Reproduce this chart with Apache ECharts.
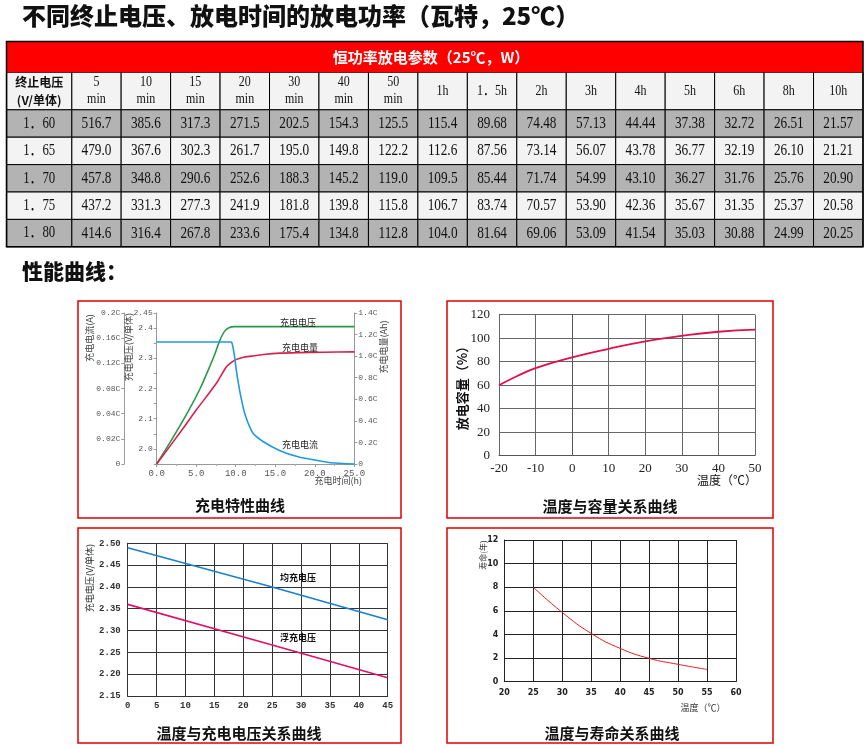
<!DOCTYPE html>
<html><head><meta charset="utf-8">
<script src="https://cdn.jsdelivr.net/npm/echarts@6/dist/echarts.min.js"></script>
<style>html,body{margin:0;padding:0;background:#fff}#c{width:868px;height:749px}</style>
</head><body><div id="c"></div>
<script>
// ---------------- DATA ----------------
var pageTitle = '不同终止电压、放电时间的放电功率（瓦特，25℃）';
var sectionTitle = '性能曲线：';
var tableTitle = '恒功率放电参数（25℃，W）';
var firstHeader = '终止电压\n(V/单体)';
var colLabels = ['5\nmin','10\nmin','15\nmin','20\nmin','30\nmin','40\nmin','50\nmin','1h','1．5h','2h','3h','4h','5h','6h','8h','10h'];
var rowLabels = ['1．60','1．65','1．70','1．75','1．80'];
var p160 = [516.7,385.6,317.3,271.5,202.5,154.3,125.5,115.4,89.68,74.48,57.13,44.44,37.38,32.72,26.51,21.57];
var p165 = [479.0,367.6,302.3,261.7,195.0,149.8,122.2,112.6,87.56,73.14,56.07,43.78,36.77,32.19,26.10,21.21];
var p170 = [457.8,348.8,290.6,252.6,188.3,145.2,119.0,109.5,85.44,71.74,54.99,43.10,36.27,31.76,25.76,20.90];
var p175 = [437.2,331.3,277.3,241.9,181.8,139.8,115.8,106.7,83.74,70.57,53.90,42.36,35.67,31.35,25.37,20.58];
var p180 = [414.6,316.4,267.8,233.6,175.4,134.8,112.8,104.0,81.64,69.06,53.09,41.54,35.03,30.88,24.99,20.25];
var rowValues = [p160,p165,p170,p175,p180];

// Chart 1: charge characteristics  [hours, value]
var chargeVoltage = [[0,1.951],[2,2.035],[4,2.125],[5.5,2.2],[6.5,2.26],[7.3,2.31],[8,2.36],[8.6,2.39],[9.2,2.402],[9.8,2.405],[15,2.405],[25,2.405]];
var chargeCapacity = [[0,0],[3.37,0.333],[5,0.5],[7.6,0.753],[8.8,0.9],[9.5,0.945],[10.1,0.97],[11,0.99],[12,1.0],[13.5,1.015],[15.6,1.028],[18,1.033],[21,1.036],[25,1.04]];
var chargeCurrent = [[0,0.154],[9.3,0.154],[9.5,0.153],[9.8,0.135],[10.1,0.107],[10.6,0.07],[11.2,0.039],[12.2,0.0244],[13.5,0.0177],[15.6,0.0106],[18,0.0055],[20,0.0032],[22,0.001],[25,0]];
var currentTickValues = [0,0.02,0.04,0.08,0.12,0.16,0.2];
var currentTickLabels = ['0','0.02C','0.04C','0.08C','0.12C','0.16C','0.2C'];

// Chart 2: temperature vs capacity
var capTemps = [-20,-15,-10,0,10,20,30,40,50];
var capValues = [60,67.8,74.6,83.7,91,97.3,102,105.5,107.3];

// Chart 3: temperature vs charge voltage
var volTemps = [0,25,45];
var equalizeVolt = [2.49,2.40,2.325];
var floatVolt = [2.36,2.267,2.192];

// Chart 4: temperature vs life
var lifeTemps = [25,30,35,40,45,50,55];
var lifeYears = [8,5.87,4.09,2.82,1.98,1.47,1.04];

// ---------------- HELPERS ----------------
function currentPos(c){
  for (var i=1;i<currentTickValues.length;i++){
    if (c<=currentTickValues[i]) return (i-1)+(c-currentTickValues[i-1])/(currentTickValues[i]-currentTickValues[i-1]);
  }
  return currentTickValues.length-1;
}
function fmtVal(v){ return v>=100 ? v.toFixed(1) : v.toFixed(2); }
var SERIF = '"Liberation Serif","Noto Sans CJK SC",serif';
var CJK = '"Noto Sans CJK SC",sans-serif';

function cell(api, fill, text, font, scaleX, lineHeight){
  var c = api.coord([api.value(0), api.value(1)]);
  var s = api.size([1,1]);
  return {type:'group', children:[
    {type:'rect', shape:{x:c[0]-s[0]/2, y:c[1]-s[1]/2, width:s[0], height:s[1]},
     style:{fill:fill, stroke:'#000', lineWidth:1}},
    {type:'text', x:c[0], y:c[1], scaleX:scaleX||1, scaleY:1,
     style:{text:text, font:font, fill:'#111', align:'center', verticalAlign:'middle', textAlign:'center', textVerticalAlign:'middle', lineHeight:lineHeight||16}}
  ]};
}
var ROWFILL = ['#b3b3b3','#f3f3f3'];

function gtext(x,y,text,font,opts){
  opts = opts||{};
  return {type:'text', x:x, y:y, rotation:opts.rot||0, z:100,
    style:{text:text, font:font, fill:opts.fill||'#111', align:opts.align||'center', textAlign:opts.align||'center',
      verticalAlign:'middle', textVerticalAlign:'middle'}};
}
function box(x,y,w,h){
  return {type:'rect', z:100, shape:{x:x,y:y,width:w,height:h}, style:{fill:'none', stroke:'#e00000', lineWidth:1.5}};
}

var tickFont1 = {fontFamily:'"Liberation Mono",monospace', fontSize:8, color:'#555'};

var option = {
  animation:false,
  backgroundColor:'#fff',
  grid:[
    {left:71.7, top:72.3, width:791.3, height:37.5},
    {left:6.7, top:72.3, width:65, height:37.5},
    {left:71.7, top:109.8, width:791.3, height:137},
    {left:6.7, top:109.8, width:65, height:137},
    {left:156.7, top:313, width:197.6, height:151},
    {left:499, top:314.7, width:256, height:141},
    {left:127.7, top:543.3, width:260, height:152.7},
    {left:504.3, top:540, width:231.7, height:141.7}
  ],
  xAxis:[
    {gridIndex:0, type:'category', data:colLabels, show:false},
    {gridIndex:1, type:'category', data:['h'], show:false},
    {gridIndex:2, type:'category', data:colLabels, show:false},
    {gridIndex:3, type:'category', data:['r'], show:false},
    {gridIndex:4, type:'value', min:0, max:25, interval:5,
      axisLine:{show:true, lineStyle:{color:'#999'}}, axisTick:{show:true, length:3, lineStyle:{color:'#999'}},
      minorTick:{show:true, splitNumber:2, length:2, lineStyle:{color:'#aaa'}},
      axisLabel:{margin:5, fontFamily:'"Liberation Mono",monospace', fontSize:9, color:'#555', formatter:function(v){return v.toFixed(1);}},
      splitLine:{show:false}},
    {gridIndex:5, type:'value', min:-20, max:50, interval:10,
      axisLine:{show:true, lineStyle:{color:'#555'}}, axisTick:{show:false},
      axisLabel:{margin:6, fontFamily:'"Liberation Serif",serif', fontSize:13, color:'#222'},
      splitLine:{show:true, lineStyle:{color:'#666', width:1}}},
    {gridIndex:6, type:'value', min:0, max:45, interval:5,
      axisLine:{show:true, lineStyle:{color:'#333'}}, axisTick:{show:false},
      axisLabel:{margin:5, fontFamily:'"Liberation Mono",monospace', fontWeight:'bold', fontSize:9, color:'#333'},
      splitLine:{show:true, lineStyle:{color:'#333', width:1}}},
    {gridIndex:7, type:'value', min:20, max:60, interval:5,
      axisLine:{show:true, lineStyle:{color:'#222'}}, axisTick:{show:false},
      axisLabel:{margin:7, fontFamily:'"DejaVu Sans",sans-serif', fontWeight:'bold', fontSize:8, color:'#222'},
      splitLine:{show:true, lineStyle:{color:'#222', width:1}}}
  ],
  yAxis:[
    {gridIndex:0, type:'category', data:['c'], show:false},
    {gridIndex:1, type:'category', data:['c'], show:false},
    {gridIndex:2, type:'category', data:rowLabels, inverse:true, show:false},
    {gridIndex:3, type:'category', data:rowLabels, inverse:true, show:false},
    {gridIndex:4, type:'value', position:'left', min:1.95, max:2.45, interval:0.05,
      axisLine:{show:true, lineStyle:{color:'#999'}}, axisTick:{show:true, length:3, lineStyle:{color:'#999'}},
      axisLabel:Object.assign({margin:4, formatter:function(v){var r=Math.round(v*100); if(r===245) return '2.45'; if(r%10===0&&r>=200) return (r/100).toFixed(1); return '';}}, tickFont1),
      splitLine:{show:false}},
    {gridIndex:4, type:'value', position:'left', offset:32.4, min:0, max:6, interval:1,
      axisLine:{show:true, lineStyle:{color:'#999'}}, axisTick:{show:true, length:3, lineStyle:{color:'#999'}},
      axisLabel:Object.assign({margin:4, formatter:function(v){return currentTickLabels[Math.round(v)];}}, tickFont1),
      splitLine:{show:false}},
    {gridIndex:4, type:'value', position:'right', min:0, max:1.4, interval:0.2,
      axisLine:{show:true, lineStyle:{color:'#999'}}, axisTick:{show:true, length:3, lineStyle:{color:'#999'}},
      axisLabel:Object.assign({margin:4, formatter:function(v){return v===0?'0':v.toFixed(1)+'C';}}, tickFont1),
      splitLine:{show:false}},
    {gridIndex:5, type:'value', min:0, max:120, interval:20,
      axisLine:{show:true, lineStyle:{color:'#555'}}, axisTick:{show:false},
      axisLabel:{margin:9, fontFamily:'"Liberation Serif",serif', fontSize:13, color:'#222'},
      splitLine:{show:true, lineStyle:{color:'#666', width:1}}},
    {gridIndex:6, type:'value', min:2.15, max:2.50, interval:0.05,
      axisLine:{show:true, lineStyle:{color:'#333'}}, axisTick:{show:false},
      axisLabel:{margin:7, fontFamily:'"Liberation Mono",monospace', fontWeight:'bold', fontSize:9, color:'#333', formatter:function(v){return v.toFixed(2);}},
      splitLine:{show:true, lineStyle:{color:'#333', width:1}}},
    {gridIndex:7, type:'value', min:0, max:12, interval:2,
      axisLine:{show:true, lineStyle:{color:'#222'}}, axisTick:{show:false},
      axisLabel:{margin:6, fontFamily:'"DejaVu Sans",sans-serif', fontWeight:'bold', fontSize:8, color:'#222'},
      splitLine:{show:true, lineStyle:{color:'#222', width:1}}}
  ],
  series:[
    {type:'custom', xAxisIndex:0, yAxisIndex:0, data:colLabels.map(function(l,i){return [i,0];}),
      renderItem:function(p,api){ return cell(api,'#f3f3f3',colLabels[api.value(0)],'15px '+SERIF,0.8,17); }},
    {type:'custom', xAxisIndex:1, yAxisIndex:1, data:[[0,0]],
      renderItem:function(p,api){ return cell(api,'#f3f3f3',firstHeader,'bold 12px '+CJK,1,18); }},
    {type:'custom', xAxisIndex:2, yAxisIndex:2,
      data:(function(){var d=[];rowValues.forEach(function(row,r){row.forEach(function(v,c){d.push([c,r,v]);});});return d;})(),
      renderItem:function(p,api){ var r=api.value(1); return cell(api,ROWFILL[r%2],fmtVal(api.value(2)),'17px '+SERIF,0.78); }},
    {type:'custom', xAxisIndex:3, yAxisIndex:3, data:rowLabels.map(function(l,r){return [0,r];}),
      renderItem:function(p,api){ var r=api.value(1); return cell(api,ROWFILL[r%2],rowLabels[r],'16px '+SERIF,0.8); }},

    {name:'充电电压', type:'line', xAxisIndex:4, yAxisIndex:4, data:chargeVoltage, showSymbol:false, smooth:0.3,
      lineStyle:{color:'#2a9a4a', width:1.6}, itemStyle:{color:'#2a9a4a'}},
    {name:'充电电量', type:'line', xAxisIndex:4, yAxisIndex:6, data:chargeCapacity, showSymbol:false, smooth:0.25,
      lineStyle:{color:'#d8204a', width:1.6}, itemStyle:{color:'#d8204a'}},
    {name:'充电电流', type:'line', xAxisIndex:4, yAxisIndex:5, data:chargeCurrent.map(function(p){return [p[0], currentPos(p[1])];}),
      showSymbol:false, smooth:0.25,
      lineStyle:{color:'#1e9be0', width:1.6}, itemStyle:{color:'#1e9be0'}},

    {name:'放电容量', type:'line', xAxisIndex:5, yAxisIndex:7, data:capTemps.map(function(t,i){return [t,capValues[i]];}),
      showSymbol:false, smooth:true, lineStyle:{color:'#e0104a', width:1.8}},

    {name:'均充电压', type:'line', xAxisIndex:6, yAxisIndex:8, data:volTemps.map(function(t,i){return [t,equalizeVolt[i]];}),
      showSymbol:false, lineStyle:{color:'#1a7fd0', width:1.6}},
    {name:'浮充电压', type:'line', xAxisIndex:6, yAxisIndex:8, data:volTemps.map(function(t,i){return [t,floatVolt[i]];}),
      showSymbol:false, lineStyle:{color:'#e0106a', width:1.6}},

    {name:'寿命', type:'line', xAxisIndex:7, yAxisIndex:9, data:lifeTemps.map(function(t,i){return [t,lifeYears[i]];}),
      showSymbol:false, smooth:true, lineStyle:{color:'#e02020', width:1}}
  ],
  graphic:[
    gtext(22,16,pageTitle,'900 24px '+CJK,{align:'left'}),
    gtext(22,271,sectionTitle,'900 21px '+CJK,{align:'left'}),
    {type:'rect', z:50, shape:{x:6.5,y:41.5,width:856.5,height:30.8}, style:{fill:'#ff0000'}},
    gtext(431,57,tableTitle,'bold 15px '+CJK,{fill:'#fff'}),
    {type:'rect', z:100, shape:{x:6.5,y:41.5,width:856.5,height:205.3}, style:{fill:'none', stroke:'#000', lineWidth:1.5}},

    box(78,301,323,217), box(447,301,326,217), box(78,528,323,215), box(447,528,326,215),

    gtext(240,505,'充电特性曲线','bold 15px '+CJK),
    gtext(610,506,'温度与容量关系曲线','bold 15px '+CJK),
    gtext(239,733,'温度与充电电压关系曲线','bold 15px '+CJK),
    gtext(612,733,'温度与寿命关系曲线','bold 15px '+CJK),

    gtext(90,338,'充电电流(A)','9px '+CJK,{rot:Math.PI/2, fill:'#444'}),
    gtext(129,347,'充电电压(V/单体)','9px '+CJK,{rot:Math.PI/2, fill:'#444'}),
    gtext(384,347,'充电电量(Ah)','9px '+CJK,{rot:Math.PI/2, fill:'#444'}),
    gtext(362,481,'充电时间(h)','9px '+CJK,{align:'right', fill:'#444'}),
    gtext(280,323,'充电电压','9px '+CJK,{align:'left', fill:'#222'}),
    gtext(282,348,'充电电量','9px '+CJK,{align:'left', fill:'#222'}),
    gtext(282,445,'充电电流','9px '+CJK,{align:'left', fill:'#222'}),

    gtext(461.7,385,'放电容量（%）','bold 13px '+CJK,{rot:Math.PI/2}),
    gtext(757,480,'温度（℃）','12px '+CJK,{align:'right'}),

    gtext(90,578,'充电电压(V/单体)','9px '+CJK,{rot:Math.PI/2, fill:'#333'}),
    gtext(280,578,'均充电压','bold 9px '+CJK,{align:'left'}),
    gtext(280,638,'浮充电压','bold 9px '+CJK,{align:'left'}),

    gtext(483,555,'寿命(年)','8px '+CJK,{rot:Math.PI/2, fill:'#333'}),
    gtext(703,708,'温度（℃）','9px '+CJK,{fill:'#333'})
  ]
};
var chart = echarts.init(document.getElementById('c'));
chart.setOption(option);
</script></body></html>
